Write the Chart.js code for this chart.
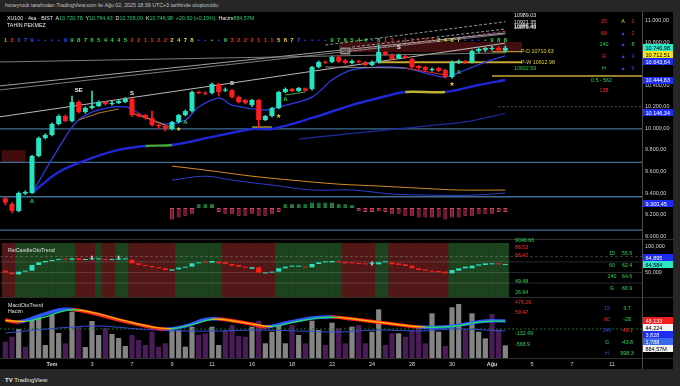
<!DOCTYPE html>
<html lang="tr">
<head>
<meta charset="utf-8">
<title>XU100 4sa</title>
<script src="https://cdn.jsdelivr.net/npm/chart.js@4.4.1/dist/chart.umd.min.js"></script>
<style>
html, body { margin: 0; padding: 0; }
body { position: relative; width: 680px; height: 386px; overflow: hidden; background: #262626;
  font-family: "Liberation Sans", Arial, sans-serif; color: #ddd; }
#frame { position: absolute; left: 0; top: 12px; width: 673px; height: 357px; background: #000; }
canvas { position: absolute; left: 0; }
.t { position: absolute; white-space: nowrap; line-height: 1; font-size: 5.3px; }
.c { text-align: center; width: 20px; }
.hl { position: absolute; left: 0; width: 673px; height: 1px; background: #2f2f2f; }
.g { color: #2ed35c; } .r { color: #ff2e2e; } .b { color: #2f46ff; } .y { color: #f0d020; }
.v { color: #25cf78; }
</style>
</head>
<body>
<div id="frame"></div>
<canvas id="main" width="673" height="228" style="top:12px"></canvas>
<canvas id="rsi" width="673" height="58" style="top:240px"></canvas>
<canvas id="macd" width="673" height="71" style="top:298px"></canvas>
<div class="hl" style="top:239px"></div>
<div class="hl" style="top:297px"></div>
<div class="hl" style="top:358px"></div>
<div style="position:absolute;left:642px;top:12px;width:1px;height:357px;background:#4a4a4a"></div>

<div class="t" style="left:5px;top:3px;color:#c4c4c4">honeyrock tarafından TradingView.com ile Ağu 02, 2025 18:39 UTC+3 tarihinde oluşturuldu</div>
<div class="t" style="left:7px;top:15.5px;color:#ececec">XU100 · 4sa · BIST&nbsp; A<span class="v">10.720,78</span>&nbsp; Y<span class="v">10.764,43</span>&nbsp; D<span class="v">10.705,09</span>&nbsp; K<span class="v">10.746,98</span>&nbsp; <span class="v">+20,50 (+0,19%)</span>&nbsp; Hacim<span class="v">884,57M</span></div>
<div class="t" style="left:7px;top:22.5px;color:#ececec">TAHİN PEKMEZ</div>

<!-- main pane table -->
<div class="t c r" style="left:594px;top:19px">15</div><div class="t c y" style="left:613px;top:19px">A</div><div class="t c r" style="left:623px;top:19px">1</div>
<div class="t c r" style="left:594px;top:30.5px">60</div><div class="t c b" style="left:613px;top:30.5px">▲</div><div class="t c r" style="left:623px;top:30.5px">2</div>
<div class="t c g" style="left:594px;top:41.5px">240</div><div class="t c b" style="left:613px;top:41.5px">▲</div><div class="t c g" style="left:623px;top:41.5px">8</div>
<div class="t c r" style="left:594px;top:53.5px">G</div><div class="t c b" style="left:613px;top:53.5px">▲</div><div class="t c b" style="left:623px;top:53.5px">9</div>
<div class="t c g" style="left:594px;top:65.5px">H</div><div class="t c b" style="left:613px;top:65.5px">▲</div><div class="t c b" style="left:623px;top:65.5px">9</div>
<div class="t g" style="left:591px;top:77.5px">0.5 - 562</div>
<div class="t c r" style="left:594px;top:87.5px">138</div>

<!-- rsi pane -->
<div class="t" style="left:8px;top:247.5px;color:#e0e0e0">RsiCandleOtoTrend</div>
<div class="t g" style="left:515px;top:237.5px">9049.66</div>
<div class="t r" style="left:515px;top:244.5px">86.53</div>
<div class="t r" style="left:515px;top:252.5px">66.47</div>
<div class="t g" style="left:515px;top:278.5px">49.48</div>
<div class="t g" style="left:515px;top:289.5px">26.94</div>
<div class="t c g" style="left:602px;top:250.5px">15</div><div class="t g" style="left:622px;top:250.5px">55.9</div>
<div class="t c g" style="left:602px;top:262.5px">60</div><div class="t g" style="left:622px;top:262.5px">62.4</div>
<div class="t c g" style="left:602px;top:273.5px">240</div><div class="t g" style="left:622px;top:273.5px">64.6</div>
<div class="t c g" style="left:602px;top:285.5px">G</div><div class="t g" style="left:622px;top:285.5px">66.9</div>

<!-- macd pane -->
<div class="t" style="left:8px;top:302.5px;color:#e0e0e0">MacdOtoTrend</div>
<div class="t" style="left:8px;top:308.5px;color:#e0e0e0">Hacim</div>
<div class="t r" style="left:515px;top:299.5px">476.26</div>
<div class="t r" style="left:515px;top:309.5px">59.47</div>
<div class="t g" style="left:515px;top:330.5px">-132.49</div>
<div class="t g" style="left:515px;top:341.5px">-568.9</div>
<div class="t c b" style="left:597px;top:305.5px">15</div><div class="t c g" style="left:617px;top:305.5px">3.7</div>
<div class="t c r" style="left:597px;top:316.5px">60</div><div class="t c g" style="left:617px;top:316.5px">-28</div>
<div class="t c b" style="left:597px;top:327.5px">240</div><div class="t c r" style="left:617px;top:327.5px">-48.1</div>
<div class="t c g" style="left:597px;top:339.5px">G</div><div class="t c g" style="left:617px;top:339.5px">-43.8</div>
<div class="t c b" style="left:597px;top:350.5px">H</div><div class="t c g" style="left:617px;top:350.5px">998.3</div>

<div class="t" style="left:5px;top:377px;font-size:6px;color:#e8e8e8"><b>TV</b> TradingView</div>

<script>
// ---- candles (4h bars, 26 Jun - 1 Aug) ----
const opens  = [9350,9298,9233,9395,9400,9743,9910,9938,10040,10114,
  10068,10244,10151,10188,10207,10244,10225,10235,10244,10272,
  10130,10123,10096,10031,10021,9993,10059,10123,10160,10337,
  10330,10327,10411,10350,10355,10290,10263,10216,10263,10077,
  10114,10188,10337,10365,10346,10370,10365,10569,10615,10615,
  10661,10630,10606,10620,10615,10587,10615,10708,10680,10652,
  10670,10643,10578,10569,10541,10559,10541,10476,10615,10624,
  10615,10717,10727,10736,10745,10720.78];
const highs  = [9365,9310,9410,9420,9750,9920,9950,10050,10125,10125,
  10300,10255,10200,10346,10255,10250,10250,10262,10285,10280,
  10140,10130,10160,10040,10030,10065,10130,10170,10345,10345,
  10340,10420,10420,10375,10360,10300,10270,10270,10270,10120,
  10195,10345,10375,10370,10380,10375,10575,10625,10625,10670,
  10672,10640,10635,10630,10620,10625,10773,10715,10690,10690,
  10680,10650,10585,10575,10560,10565,10550,10625,10635,10630,
  10725,10745,10750,10760,10760,10764.43];
const lows   = [9290,9215,9225,9385,9395,9735,9900,9930,10030,10060,
  10060,10140,10140,10180,10200,10215,10215,10228,10238,10110,
  10105,10085,10020,10000,9975,9985,10050,10115,10150,10320,
  10310,10320,10300,10340,10280,10235,10225,10200,10012,10070,
  10105,10180,10330,10340,10340,10345,10355,10560,10600,10610,
  10610,10595,10598,10605,10580,10580,10605,10672,10635,10645,
  10645,10560,10550,10530,10530,10525,10465,10465,10600,10600,
  10605,10700,10710,10725,10715,10705.09];
const closes = [9310,9233,9400,9410,9743,9910,9938,10040,10114,10068,
  10244,10151,10188,10207,10244,10225,10235,10253,10272,10123,
  10114,10096,10031,10021,9993,10059,10123,10160,10337,10327,
  10320,10411,10337,10355,10290,10244,10235,10263,10077,10114,
  10188,10337,10365,10346,10374,10350,10569,10615,10610,10661,
  10620,10606,10624,10615,10587,10615,10708,10680,10643,10680,
  10652,10569,10559,10541,10545,10532,10476,10615,10624,10610,
  10717,10736,10745,10745,10725,10746.98];

// day ticks on the time axis (bar index of the first bar of the day)
const dayIdx = [7,13,19,25,31,37,43,49,55,61,67,73,79,85,91];
const dayLbl = ['Tem','3','7','9','11','16','18','22','24','28','30','Ağu','5','7','11'];
const priceTicks = [9000,9200,9400,9600,9800,10000,10200,10400,10600,10800,11000];
const rsiTicks = [50, 100];

// count row above the candles
const seqTxt = ['1','3','3','7','9','•','•','•','•','9','9','8','7','6','5','4','4','4','5','2',
  '2','1','1','2','2','2','4','7','8','•','•','•','•','9','3','2','2','2','1','1',
  '1','5','6','7','7','•','•','•','•','9','7','6','5','4','4','•','8','1','3','•',
  '1','1','1','2','2','2','4','6','7','•','•','•','•','9','8','8'];
const seqCol = 'grbbbbbbbbgggggggggrrrrrryyyybbgbgrrrrrrryyybbbbbggggggbgrrrrrrrryyyybbbgggg';

// moving averages (bar index, price)
const fastMA = [[4,9400],[9,9919],[11,10077],[14,10170],[18,10198],[21,10105],[24,10040],[27,10077],
  [29,10198],[32,10281],[34,10216],[39,10170],[41,10198],[46,10290],[49,10448],[52,10541],
  [56,10569],[60,10559],[63,10513],[66,10476],[69,10541],[72,10615],[75,10671]];
const slowMA = [[4,9400],[8,9595],[13,9725],[17,9800],[21,9836],[25,9845],[31,9920],[37,9994],
  [40,9994],[46,10096],[52,10216],[56,10281],[60,10337],[66,10337],[71,10402],[75,10448]];
const slowFlat = [[21,25],[60,66]];
const lowMA = [[44,9900],[50,9940],[57,9984],[63,10021],[69,10060],[75,10140]];

// drawn trend lines and levels
const trendLines = [[[-1,10615],[75,10700]], [[-1,10392],[75,10885]], [[-1,10355],[75,10875]], [[-1,10105],[75,10790]]];
const dashLines = [[[48,10773],[75,10989]], [[52,10754],[75,10921]]];
const pinkLine = [[50,10700],[75,10900]];
const hLevels = [9995, 9685, 9365, 9055];
const pdVal = 10710.63, pwVal = 10612.98, pgVal = 10632.59, lowGold = 10485, greyDash = 10200;
const endVals = [10989.03, 10921.35, 10885.43, 10875.45];
const zone = {from: 50, to: 77.5, lo: 10708, hi: 10800};
const leftBox = {from: -0.6, to: 3, lo: 9686, hi: 9797};

const trail = {
  brown: [[11,10077],[14,10142],[17,10179]],
  orange: [[19,10142],[22,10077],[25,10003]],
  yellow: [[37,10012],[40,10012]],
  green: [[42,10309],[45,10337]],
  grey: [[48,10569],[60,10559]],
  red: [[60,10559],[66,10494]]
};
const trailColor = {brown:'#a5703a', orange:'#e07a20', yellow:'#d8c040', green:'#3aa040', grey:'#8a8a8a', red:'#e03030'};

// oscillator drawn inside the price pane
const oscOrange = [[25,22.1],[30,20],[37,16.8],[43,14.7],[50,12.6],[56,11.6],[62,10.5],[68,9.5],[75,9.5]];
const oscBlue = [[25,14.7],[30,16.8],[34,14.7],[40,12.1],[46,9.5],[52,9.5],[58,7.4],[64,6.8],[70,6.8],[75,7.9]];
const histStart = 25;
const histVals = [-6,-5,-4,-3,2,2,2,-2,-3,-3,-4,-4,-3,-4,-4,-3,-2,2,2,2,2,3,3,3,3,2,2,1.5,
  -1.5,-2,-2,-1.5,-2,-3,-3,-4,-4,-5,-5,-5,-5,-6,-5,-5,-4,-4,-3,-3,-3,-2,-2];

// markers
const sellMarks = [[11,10355,'SE'],[19,10327,'S'],[34,10420,'S'],[51,10717,'SE'],[59,10754,'S']];
const buyMarks = [[4,9326],[27,10059],[42,10272],[68,10522]];
const starMarks = [[26,9993],[41,10114],[67,10411]];

// ---- RSI candles ----
const rOpen = [53.5,49.7,46.5,51.6,53.5,64.2,69.2,71.7,73.6,74.8,
  74.0,76.7,73.6,74.8,74.8,75.5,73.6,74.5,74.8,74.0,
  67.3,64.2,62.3,59.8,57.9,53.5,56.0,59.1,61.0,67.3,
  69.2,68.5,70.4,69.2,66.0,64.2,61.0,57.0,60.0,48.4,
  49.7,51.6,57.9,61.0,61.0,61.2,59.8,66.0,69.2,69.2,
  71.0,70.0,68.5,67.8,67.3,66.5,65.4,69.2,69.2,67.3,
  65.4,62.9,57.9,56.0,53.5,52.8,51.6,48.4,53.5,57.9,
  57.9,62.9,64.2,65.4,67.3,64.0];
const rClose = [49.7,46.5,51.6,53.5,64.2,69.2,71.7,73.6,74.8,74.0,
  76.7,73.6,74.8,75.0,75.5,73.6,74.5,74.8,75.2,67.3,
  64.2,62.3,59.8,57.9,54.7,56.0,59.1,61.0,67.3,69.2,
  68.5,71.7,67.3,66.0,62.9,61.0,59.1,60.0,49.7,49.7,
  51.6,57.9,61.0,61.5,61.2,59.5,66.0,69.2,70.4,71.7,
  69.2,67.3,67.3,66.0,65.4,66.8,69.2,69.5,65.4,64.2,
  62.3,57.9,54.7,53.5,51.6,50.3,48.4,54.7,57.9,61.0,
  62.9,65.4,67.3,67.3,65.4,64.6];
const rsiWicks = [[13,74.5,81],[17,74.3,81],[55,64,70]];
const rsiTrend = 'rrgggggggggrrrgrrggrrrrrrrgggggggrrrrrrrrggggggggggrrrrrggrrrrrrrrrggggggggg';
const rsiLevels = [80, 70, 50, 30];

// ---- volume + MACD ----
const vol = [1141,1491,2030,791,2660,2870,910,3010,1750,1029,
  3241,2170,770,2590,1610,2100,1680,1400,840,1610,
  1260,910,1841,791,1029,1960,1960,791,2191,1610,
  1729,2191,910,1960,2310,1540,1491,2191,2611,1029,
  1841,2240,1029,2310,1610,1029,2611,1960,910,2471,
  2079,1029,2191,2310,1029,1841,3409,910,1729,1729,
  1491,1960,2079,1029,3129,1841,840,3549,3780,1960,
  3129,1841,1375,3080,2009,884.57];
const volKind = [0,0,1,0,1,1,1,1,1,0, 1,0,1,1,1,0,1,1,1,0, 0,0,0,0,0,1,1,1,1,0,
  0,1,1,0,0,0,0,1,0,1, 1,1,1,0,1,0,1,1,0,1, 0,0,1,0,0,1,1,0,0,1,
  0,0,0,0,1,1,0,1,1,0, 1,1,1,0,0,1];
const volMA = [[0,1750],[8,2100],[14,2240],[20,2030],[26,1890],[32,1890],[38,1960],[44,1890],
  [50,1820],[56,1960],[62,1890],[68,2030],[75,1890]];
const macdPts = [[0,72],[2,24],[5,170],[8,315],[10,327],[13,242],[17,72],[21,-74],[24,-146],[27,-74],
  [30,84],[32,97],[37,-25],[39,-98],[42,-1],[46,121],[49,145],[52,97],[57,-1],[62,-98],
  [66,-98],[70,-1],[72,48],[75,48]];
const signalPts = [[0,60],[3,40],[6,150],[9,300],[11,315],[14,220],[18,50],[22,-95],[25,-140],[28,-40],
  [31,90],[33,80],[38,-50],[40,-85],[43,10],[47,125],[50,135],[53,80],[58,-20],[63,-100],
  [67,-85],[71,20],[73,44],[75,44]];
const macdLevel = -146;

// value boxes on the price scales
const mainBoxes = [[10746.98,'teal'],[10712.51,'yellow'],[10643.64,'blue'],[10444.83,'blue'],[10146.34,'blue'],[9300.45,'blue']];
const rsiBoxes = [[64.895,'blue'],[64.584,'teal']];
const macdBoxes = [[48.133,'red','ym'],[44.224,'white','ym'],[3.828,'blue','ym'],[1.788,'blue2','ym'],[884.57,'white','yv']];

// ---------- helpers ----------
const X_MIN = -0.8, X_MAX = 95.5;
const TEAL = '#27e3c2', RED = '#ff1c1c';
const FONT = '"Liberation Sans", Arial, sans-serif';
Chart.defaults.font.family = FONT;

const boxBg = {teal:'#30e6c8', yellow:'#f2e41e', blue:'#1d2cf0', blue2:'#3a66e8', red:'#f21d1d', white:'#f2f2f2'};
const boxFg = {teal:'#000', yellow:'#000', blue:'#fff', blue2:'#fff', red:'#fff', white:'#000'};
const seqPal = {g:'#2fd34a', r:'#e43030', y:'#e6d24a', b:'#2f46ff'};

function trNum(v, d) {
  const s = Math.abs(v).toFixed(d).split('.');
  const ip = s[0].replace(/\B(?=(\d{3})+(?!\d))/g, '.');
  return (v < 0 ? '-' : '') + ip + (d ? ',' + s[1] : '');
}
const P = a => a.map(([x, y]) => ({x, y}));
const idx = opens.map((_, i) => i);

function line(data, color, width, extra) {
  return Object.assign({type:'line', data, borderColor:color, borderWidth:width, pointRadius:0,
    fill:false, tension:0, yAxisID:'y', order:6}, extra || {});
}
function xAxis(show) {
  return {type:'linear', min:X_MIN, max:X_MAX, offset:false, display:show,
    grid:{display:false, drawTicks:false, offset:false}, border:{display:false},
    afterBuildTicks: s => { s.ticks = dayIdx.map(v => ({value:v})); },
    afterFit: s => { s.paddingLeft = 0; s.paddingRight = 0; if (show) s.height = 11; },
    ticks: {autoSkip:false, maxRotation:0, padding:3, color:'#d4d4d4',
      font: c => ({size:5.5, weight: (dayLbl[c.index] === 'Tem' || dayLbl[c.index] === 'Ağu') ? 'bold' : 'normal'}),
      callback: (v, i) => dayLbl[i]}};
}
function yAxis(min, max, ticks, digits) {
  return {position:'right', min, max, grid:{display:false, drawTicks:false}, border:{display:false},
    ticks: {display: !!ticks, color:'#d2d2d2', padding:3, font:{size:5.5}, callback: v => trNum(v, digits)},
    afterBuildTicks: s => { if (ticks) s.ticks = ticks.map(v => ({value:v})); },
    afterFit: s => { s.width = 31; s.paddingTop = 0; s.paddingBottom = 0; }};
}
function boxPlugin(id, items, dir, digitsFor) {
  return {id, afterDraw(chart) {
    const ctx = chart.ctx;
    const list = items.map(([v, k, ax]) => ({v, k, py: chart.scales[ax || 'y'].getPixelForValue(v), ax: ax || 'y'}));
    list.sort((a, b) => dir * (a.py - b.py));
    for (let k = 1; k < list.length; k++) {
      const prev = list[k - 1].py;
      if (dir > 0 && list[k].py - prev < 7) list[k].py = prev + 7;
      if (dir < 0 && prev - list[k].py < 7) list[k].py = prev - 7;
    }
    const left = chart.chartArea.right + 1;
    ctx.save();
    ctx.font = '5.5px ' + FONT; ctx.textBaseline = 'middle'; ctx.textAlign = 'left';
    list.forEach(b => {
      ctx.fillStyle = boxBg[b.k]; ctx.fillRect(left, Math.round(b.py - 3.5), 30, 7);
      ctx.fillStyle = boxFg[b.k]; ctx.fillText(digitsFor(b), left + 2.5, b.py + 0.5);
    });
    ctx.restore();
  }};
}
const common = {responsive:false, animation:false, events:[], layout:{padding:0},
  plugins:{legend:{display:false}, tooltip:{enabled:false}}};

// ---------- main price pane ----------
const mainDeco = {id:'mainDeco', afterDatasetsDraw(chart) {
  const {ctx, scales:{x, y}} = chart;
  ctx.save();
  ctx.textAlign = 'center'; ctx.textBaseline = 'middle';
  ctx.font = 'bold 6px ' + FONT;
  seqTxt.forEach((t, i) => { ctx.fillStyle = seqPal[seqCol[i]]; ctx.fillText(t, x.getPixelForValue(i), 28.5); });
  sellMarks.forEach(([i, p, t]) => {
    const px = x.getPixelForValue(i), py = y.getPixelForValue(p);
    if (t === 'SE' && i > 40) { ctx.fillStyle = '#8d8d8d'; ctx.fillRect(px - 5, py - 3.5, 10, 7); ctx.fillStyle = '#3a1a1a'; }
    else ctx.fillStyle = '#f2f2f2';
    ctx.fillText(t, px, py);
  });
  ctx.fillStyle = '#2fd34a';
  buyMarks.forEach(([i, p]) => ctx.fillText('A', x.getPixelForValue(i), y.getPixelForValue(p)));
  ctx.font = '6px "DejaVu Sans"'; ctx.fillStyle = '#f2d21a';
  starMarks.forEach(([i, p]) => ctx.fillText('★', x.getPixelForValue(i), y.getPixelForValue(p)));
  ctx.textAlign = 'left'; ctx.font = '5.3px ' + FONT;
  const lx = x.getPixelForValue(76.3);
  ctx.fillStyle = '#e8e8e8';
  endVals.forEach(v => ctx.fillText(v.toFixed(2), lx, y.getPixelForValue(v) - 6.5));
  ctx.fillStyle = '#e6cf3a';
  ctx.fillText('P-D ' + pdVal.toFixed(2), lx + 7, y.getPixelForValue(pdVal));
  ctx.fillText('P-W ' + pwVal.toFixed(2), lx + 7, y.getPixelForValue(pwVal));
  ctx.fillStyle = '#2fd34a';
  ctx.fillText(pgVal.toFixed(2), lx, y.getPixelForValue(pgVal) + 8);
  ctx.restore();
}};

const mainSets = [
  {type:'bar', data: idx.map(i => ({x:i, y:[opens[i], closes[i]]})), backgroundColor: idx.map(i => closes[i] >= opens[i] ? TEAL : RED),
    barPercentage:0.75, categoryPercentage:1, grouped:false, minBarLength:1, yAxisID:'y', order:1},
  {type:'bar', data: idx.map(i => ({x:i, y:[lows[i], highs[i]]})), backgroundColor: idx.map(i => closes[i] >= opens[i] ? TEAL : RED),
    barThickness:1, grouped:false, yAxisID:'y', order:2},
  line(P(fastMA), '#2c3de0', 1.3, {tension:0.35, order:4}),
  line(P(slowMA), '#1f27d6', 2.4, {tension:0.3, order:4, segment:{borderColor: c => {
    const a = c.p0.parsed.x, b = c.p1.parsed.x;
    const k = slowFlat.findIndex(r => a >= r[0] && b <= r[1]);
    return k < 0 ? '#1f27d6' : ['#46a83a', '#bfb13c'][k];
  }}}),
  line(P(lowMA), '#1b2a9c', 1.2, {tension:0.3, order:5}),
  ...trendLines.map((l, k) => line(P(l), ['#8a8a8a', '#b4b4b4', '#8a8a8a', '#cfcfcf'][k], 0.9, {order:8})),
  ...dashLines.map(l => line(P(l), '#a8a8a8', 0.9, {borderDash:[3, 2], order:8})),
  line(P(pinkLine), '#c04a7a', 0.9, {borderDash:[3, 2], order:8}),
  ...hLevels.map(v => line(P([[X_MIN, v], [X_MAX, v]]), '#3f6f93', 1.3, {order:9})),
  line(P([[73, pdVal], [77.5, pdVal]]), '#d6b43a', 1, {order:7}),
  line(P([[56, pwVal], [77.5, pwVal]]), '#c9a83a', 1.8, {order:7}),
  line(P([[73, lowGold], [X_MAX, lowGold]]), '#c9a83a', 1.5, {order:7}),
  line(P([[74, greyDash], [X_MAX, greyDash]]), '#555555', 1, {borderDash:[2, 2], order:9}),
  line(P([[zone.from, zone.hi], [zone.to, zone.hi]]), 'rgba(0,0,0,0)', 0, {fill:'+1', backgroundColor:'rgba(115,25,25,0.55)', order:10}),
  line(P([[zone.from, zone.lo], [zone.to, zone.lo]]), 'rgba(0,0,0,0)', 0, {order:10}),
  line(P([[leftBox.from, leftBox.hi], [leftBox.to, leftBox.hi]]), 'rgba(0,0,0,0)', 0, {fill:'+1', backgroundColor:'rgba(110,20,20,0.6)', order:10}),
  line(P([[leftBox.from, leftBox.lo], [leftBox.to, leftBox.lo]]), 'rgba(0,0,0,0)', 0, {order:10}),
  line(P(oscOrange), '#d98a2b', 1, {tension:0.35, yAxisID:'yo', order:9}),
  line(P(oscBlue), '#2b3fc8', 1, {tension:0.35, yAxisID:'yo', order:9}),
  {type:'bar', data: histVals.map((v, k) => ({x: histStart + k, y: [0, v]})), yAxisID:'yo', grouped:false,
    barPercentage:0.6, categoryPercentage:1, order:9,
    backgroundColor: histVals.map(v => v < 0 ? '#7a1a30' : '#1e7a3e'),
    borderColor: histVals.map(v => v < 0 ? '#d04468' : '#2fa050'), borderWidth:0.8, borderSkipped:false},
  ...Object.keys(trail).map(k => line(P(trail[k]), trailColor[k], 1.1, {order:3}))
];

new Chart(document.getElementById('main'), {
  data: {datasets: mainSets},
  options: Object.assign({}, common, {scales: {
    x: xAxis(false),
    y: yAxis(8964, 11079, priceTicks, 2),
    yo: {display:false, min:-16.8, max:103.2}
  }}),
  plugins: [mainDeco, boxPlugin('mainBoxes', mainBoxes, 1, b => trNum(b.v, 2))]
});

// ---------- RSI candle pane ----------
const rIdx = rOpen.map((_, i) => i);
const rsiSets = [
  {type:'bar', data: rIdx.map(i => ({x:i, y:[0, 105.7]})), backgroundColor: rIdx.map(i => rsiTrend[i] === 'g' ? '#1c421e' : '#521818'),
    barPercentage:1.08, categoryPercentage:1, grouped:false, order:20},
  ...rsiLevels.map((v, k) => ({type:'line', data: P([[X_MIN, v], [X_MAX, v]]), borderColor: k === 0 ? 'rgba(200,200,200,0.35)' : 'rgba(170,170,170,0.3)',
    borderWidth:0.8, borderDash: k === 0 ? [3, 2] : [], pointRadius:0, order:10})),
  {type:'bar', data: rIdx.map(i => ({x:i, y:[rOpen[i], rClose[i]]})), backgroundColor: rIdx.map(i => rClose[i] >= rOpen[i] ? TEAL : RED),
    barPercentage:0.75, categoryPercentage:1, grouped:false, minBarLength:1, order:1},
  {type:'bar', data: rsiWicks.map(([i, lo, hi]) => ({x:i, y:[lo, hi]})), backgroundColor:'#cfcfcf', barThickness:1, grouped:false, order:2}
];
new Chart(document.getElementById('rsi'), {
  data: {datasets: rsiSets},
  options: Object.assign({}, common, {scales: {x: xAxis(false), y: yAxis(1.9, 111.3, rsiTicks, 3)}}),
  plugins: [boxPlugin('rsiBoxes', rsiBoxes, -1, b => trNum(b.v, 3))]
});

// ---------- volume + MACD pane ----------
const vIdx = vol.map((_, i) => i);
const macdSets = [
  {type:'bar', data: vIdx.map(i => ({x:i, y:vol[i]})), yAxisID:'yv', grouped:false, barPercentage:0.78, categoryPercentage:1,
    backgroundColor: vIdx.map(i => volKind[i] ? '#848484' : '#4a1c58'), order:20},
  {type:'line', data: P(volMA), yAxisID:'yv', borderColor:'#2f4fd0', borderWidth:1, pointRadius:0, tension:0.3, order:9},
  {type:'line', data: P([[X_MIN, macdLevel], [X_MAX, macdLevel]]), yAxisID:'ym', borderColor:'#1f6a2a', borderWidth:1, borderDash:[2, 2], pointRadius:0, order:10},
  {type:'line', data: P(macdPts), yAxisID:'ym', borderWidth:3.4, pointRadius:0, tension:0.4, order:3,
    segment:{borderColor: c => c.p1.parsed.y >= c.p0.parsed.y ? '#2f55ff' : '#ff2424'}},
  {type:'line', data: P(signalPts), yAxisID:'ym', borderWidth:1.4, pointRadius:0, tension:0.4, order:2,
    segment:{borderColor: c => c.p1.parsed.y >= c.p0.parsed.y ? '#22dd66' : '#ffb000'}}
];
new Chart(document.getElementById('macd'), {
  data: {datasets: macdSets},
  options: Object.assign({}, common, {scales: {
    x: xAxis(true),
    ym: yAxis(-851, 607, null, 2),
    yv: {display:false, min:0, max:4200}
  }}),
  plugins: [boxPlugin('macdBoxes', macdBoxes, 1, b => b.ax === 'yv' ? trNum(b.v, 2) + 'M' : trNum(b.v, 3))]
});
</script>
</body>
</html>
